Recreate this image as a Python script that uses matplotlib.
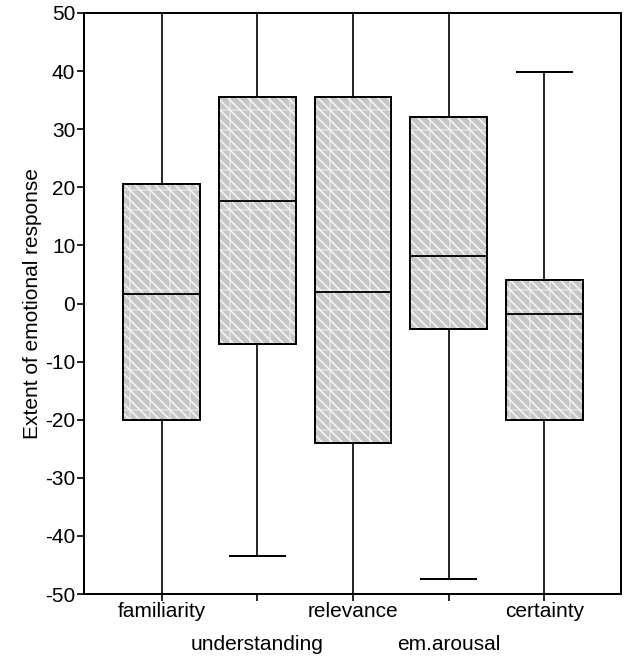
import matplotlib
matplotlib.use("Agg")
import matplotlib.pyplot as plt
from matplotlib.patches import PathPatch

plt.rcParams['font.family'] = ['Liberation Sans', 'DejaVu Sans']
plt.rcParams['axes.unicode_minus'] = False
plt.rcParams['hatch.linewidth'] = 1.0

categories = ['familiarity', 'understanding', 'relevance', 'em.arousal', 'certainty']
whisker_low = [-60, -43.4, -60, -47.5, -60]
q1 = [-20.0, -6.9, -24.0, -4.4, -20.0]
medians = [1.6, 17.7, 1.9, 8.2, -1.8]
q3 = [20.5, 35.5, 35.5, 32.1, 4.0]
whisker_high = [60, 60, 60, 60, 39.8]
yticks = [-50, -40, -30, -20, -10, 0, 10, 20, 30, 40, 50]

stats = []
for name, lo, a, m, b, hi in zip(categories, whisker_low, q1, medians, q3, whisker_high):
    stats.append(dict(label=name, whislo=lo, q1=a, med=m, q3=b, whishi=hi, fliers=[]))

dpi = 120
fig = plt.figure(figsize=(627 / dpi, 656 / dpi), dpi=dpi)
ax = fig.add_axes([84 / 627, 1 - 594 / 656, (621 - 84) / 627, (594 - 13) / 656])

positions = list(range(1, len(categories) + 1))
bp = ax.bxp(stats, positions=positions, widths=0.8, patch_artist=True, showfliers=False,
            boxprops=dict(facecolor='#c6c6c6', edgecolor='black', linewidth=1.1),
            medianprops=dict(color='black', linewidth=1.1, zorder=6),
            whiskerprops=dict(color='black', linewidth=1.0),
            capprops=dict(color='black', linewidth=1.2),
            capwidths=0.57)

diag = chr(92) * 4
for box in bp['boxes']:
    path = box.get_path()
    z = box.get_zorder()
    ax.add_patch(PathPatch(path, facecolor='none', edgecolor='#e0e0e0', hatch='+',
                           linewidth=0, zorder=z + 0.1))
    ax.add_patch(PathPatch(path, facecolor='none', edgecolor='#f4f4f4', hatch=diag,
                           linewidth=0, zorder=z + 0.2))
    ax.add_patch(PathPatch(path, facecolor='none', edgecolor='black',
                           linewidth=1.1, zorder=z + 0.3))

ax.set_xlim(0.19, 5.8)
ax.set_ylim(-50, 50)
ax.set_yticks(yticks)
ax.set_yticklabels([str(v) for v in yticks])

major_pos = positions[0::2]
minor_pos = positions[1::2]
ax.set_xticks(major_pos)
ax.set_xticklabels(categories[0::2])
ax.set_xticks(minor_pos, minor=True)
ax.set_xticklabels(categories[1::2], minor=True)

ax.tick_params(axis='y', direction='out', length=4.2, width=1.0, labelsize=12.5, pad=1)
ax.tick_params(axis='x', which='both', direction='out', length=4.2, width=1.0, labelsize=12.5)
ax.tick_params(axis='x', which='major', pad=0.5)
ax.tick_params(axis='x', which='minor', pad=20.5)
ax.set_ylabel('Extent of emotional response', fontsize=12.5, labelpad=2)
for s in ax.spines.values():
    s.set_linewidth(1.2)

fig.savefig('out.png', dpi=dpi)
